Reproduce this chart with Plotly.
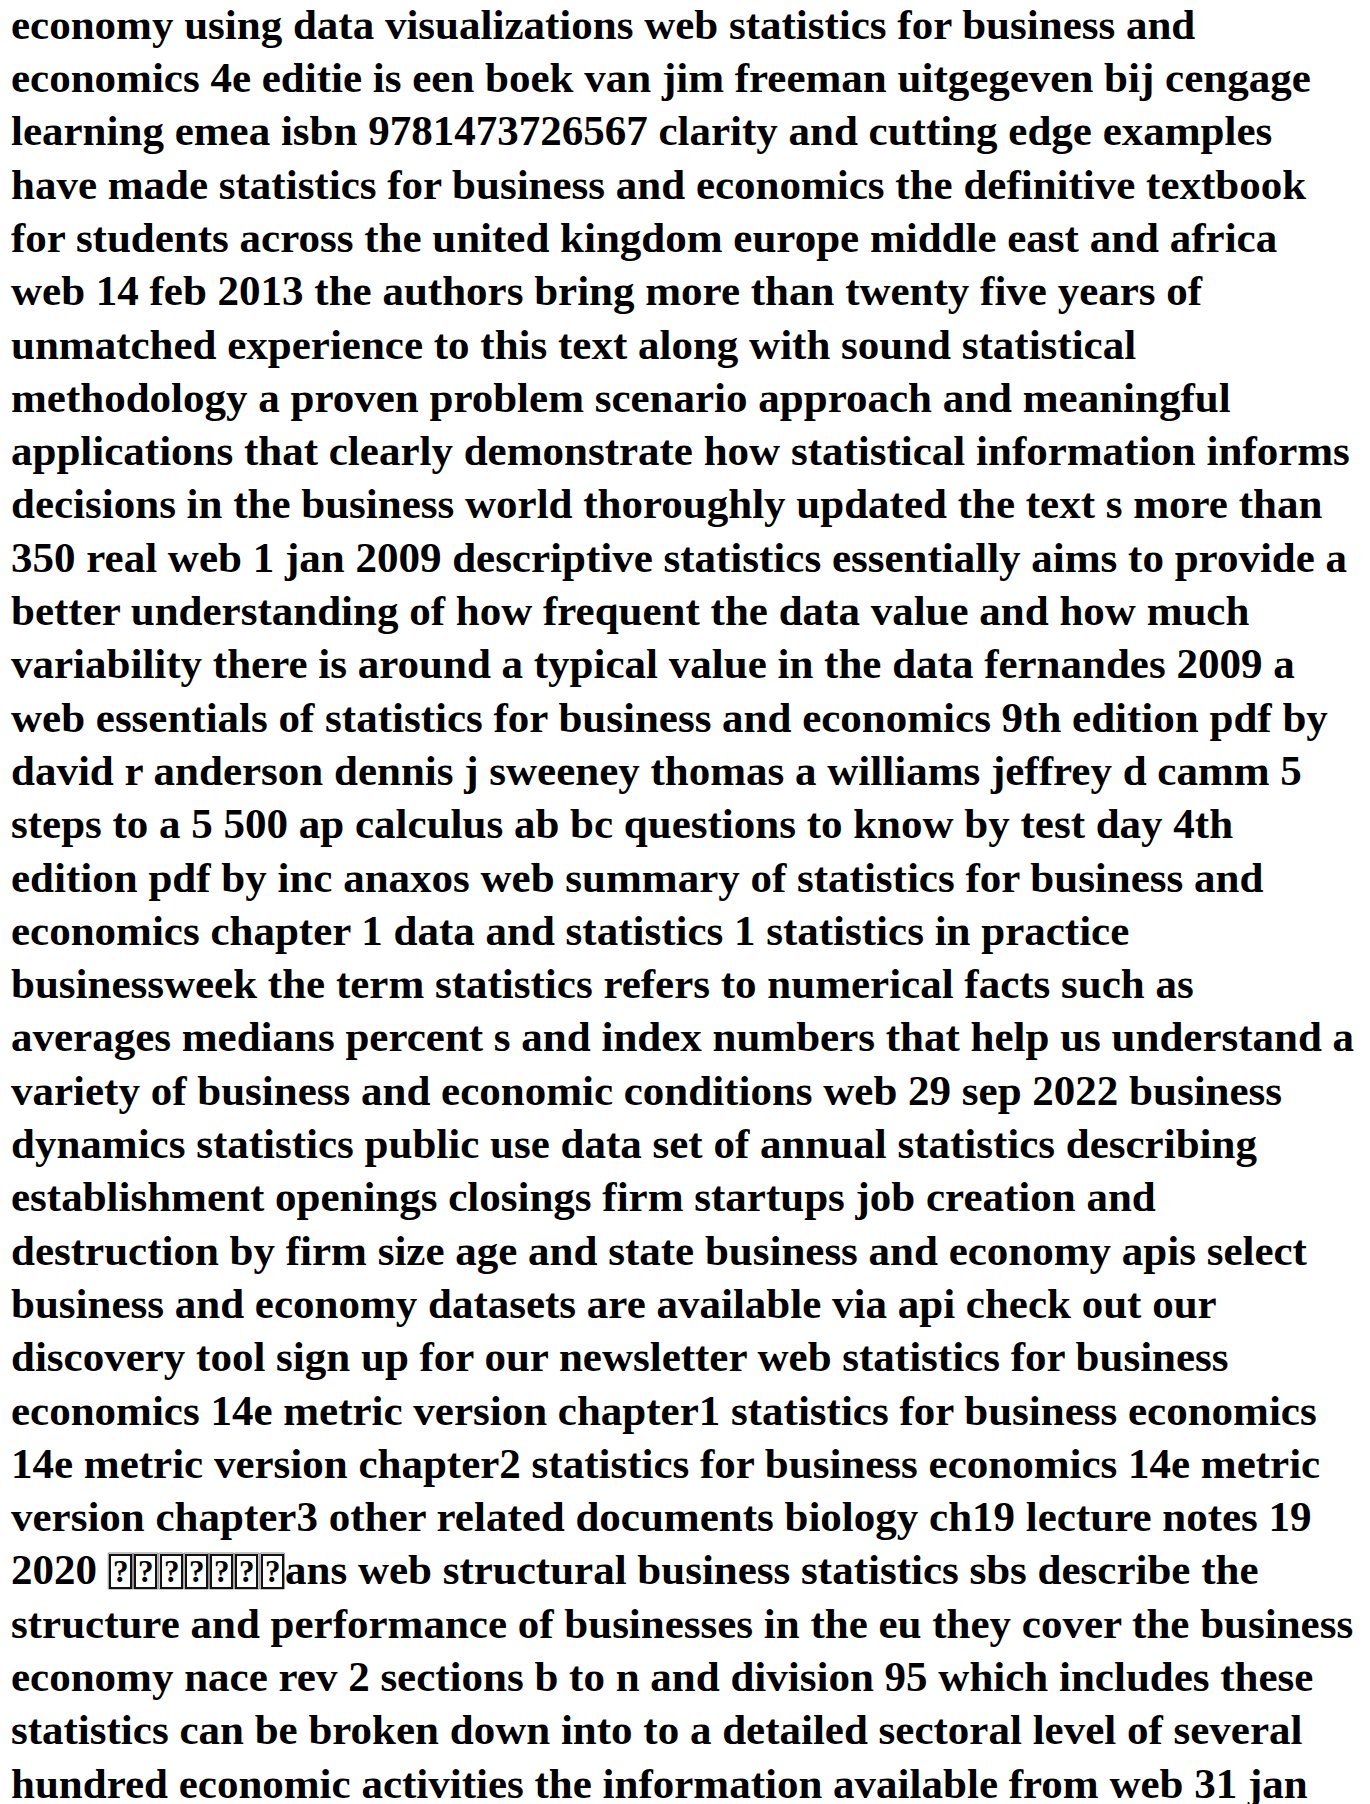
import plotly.graph_objects as go

# ---- content -------------------------------------------------------------
lines = [
    "economy using data visualizations web statistics for business and",
    "economics 4e editie is een boek van jim freeman uitgegeven bij cengage",
    "learning emea isbn 9781473726567 clarity and cutting edge examples",
    "have made statistics for business and economics the definitive textbook",
    "for students across the united kingdom europe middle east and africa",
    "web 14 feb 2013 the authors bring more than twenty five years of",
    "unmatched experience to this text along with sound statistical",
    "methodology a proven problem scenario approach and meaningful",
    "applications that clearly demonstrate how statistical information informs",
    "decisions in the business world thoroughly updated the text s more than",
    "350 real web 1 jan 2009 descriptive statistics essentially aims to provide a",
    "better understanding of how frequent the data value and how much",
    "variability there is around a typical value in the data fernandes 2009 a",
    "web essentials of statistics for business and economics 9th edition pdf by",
    "david r anderson dennis j sweeney thomas a williams jeffrey d camm 5",
    "steps to a 5 500 ap calculus ab bc questions to know by test day 4th",
    "edition pdf by inc anaxos web summary of statistics for business and",
    "economics chapter 1 data and statistics 1 statistics in practice",
    "businessweek the term statistics refers to numerical facts such as",
    "averages medians percent s and index numbers that help us understand a",
    "variety of business and economic conditions web 29 sep 2022 business",
    "dynamics statistics public use data set of annual statistics describing",
    "establishment openings closings firm startups job creation and",
    "destruction by firm size age and state business and economy apis select",
    "business and economy datasets are available via api check out our",
    "discovery tool sign up for our newsletter web statistics for business",
    "economics 14e metric version chapter1 statistics for business economics",
    "14e metric version chapter2 statistics for business economics 14e metric",
    "version chapter3 other related documents biology ch19 lecture notes 19",
    None,  # line with unrenderable glyphs, see below
    "structure and performance of businesses in the eu they cover the business",
    "economy nace rev 2 sections b to n and division 95 which includes these",
    "statistics can be broken down into to a detailed sectoral level of several",
    "hundred economic activities the information available from web 31 jan",
]
box_line_prefix = "2020 "
box_glyphs = ["?", "?", "?", "?", "?", "?", "?"]
box_line_suffix = "ans web structural business statistics sbs describe the"

# ---- style / layout constants ---------------------------------------------
W, H = 1370, 1804
FONT = "Liberation Serif"
FS = 43
LEFT = 11
BASE0 = 38.8
LEAD = 53.3
ASC, DESC = 0.891 * FS, 0.216 * FS    # ascent / descent of the serif face
MID = ASC - (ASC + DESC) / 2          # baseline -> text-box middle distance
BOX_W, BOX_H = 25.3, 37

# Times-bold advance widths (1/1000 em) for the prefix characters
adv = {"2": 500, "0": 500, " ": 250}

fig = go.Figure()
fig.add_trace(go.Scatter(x=[0, W], y=[0, H], mode="markers",
                         marker=dict(opacity=0), hoverinfo="skip", showlegend=False))

ann, shapes = [], []
def text_ann(x, baseline, s):
    ann.append(dict(x=x, y=baseline - MID, xref="x", yref="y", text="<b>" + s + "</b>",
                    xanchor="left", yanchor="middle", showarrow=False,
                    borderpad=0, borderwidth=0,
                    font=dict(family=FONT, size=FS, color="#000")))

for i, s in enumerate(lines):
    base = BASE0 + LEAD * i
    if s is not None:
        text_ann(LEFT, base, s)
    else:
        text_ann(LEFT, base, box_line_prefix)
        bx = LEFT + sum(adv[c] for c in box_line_prefix) / 1000 * FS
        top = base + 5 - BOX_H
        for k, g in enumerate(box_glyphs):
            x0 = bx + BOX_W * k
            shapes.append(dict(type="rect", xref="x", yref="y",
                               x0=x0 + 0.5, x1=x0 + BOX_W - 0.5, y0=top + 0.5, y1=top + BOX_H - 0.5,
                               line=dict(color="#8a8a8a", width=1), fillcolor="#ffffff",
                               layer="below"))
            ann.append(dict(x=x0 + BOX_W / 2, y=top + BOX_H / 2, xref="x", yref="y",
                            text="<b>" + g + "</b>", showarrow=False,
                            xanchor="center", yanchor="middle",
                            width=BOX_W - 8, height=BOX_H - 8,
                            borderwidth=2, borderpad=1, bordercolor="#111111",
                            font=dict(family=FONT, size=31, color="#000")))
        text_ann(bx + BOX_W * len(box_glyphs), base, box_line_suffix)

fig.update_layout(
    width=W, height=H,
    margin=dict(l=0, r=0, t=0, b=0),
    paper_bgcolor="#ffffff", plot_bgcolor="#ffffff",
    font=dict(family=FONT),
    xaxis=dict(range=[0, W], visible=False, fixedrange=True),
    yaxis=dict(range=[H, 0], visible=False, fixedrange=True),
    annotations=ann,
    shapes=shapes,
    showlegend=False,
)
fig.write_html("out.html", config={"displayModeBar": False},
               post_script="document.body.style.margin='0';document.body.style.padding='0';"
                           "document.body.style.overflow='hidden';")
